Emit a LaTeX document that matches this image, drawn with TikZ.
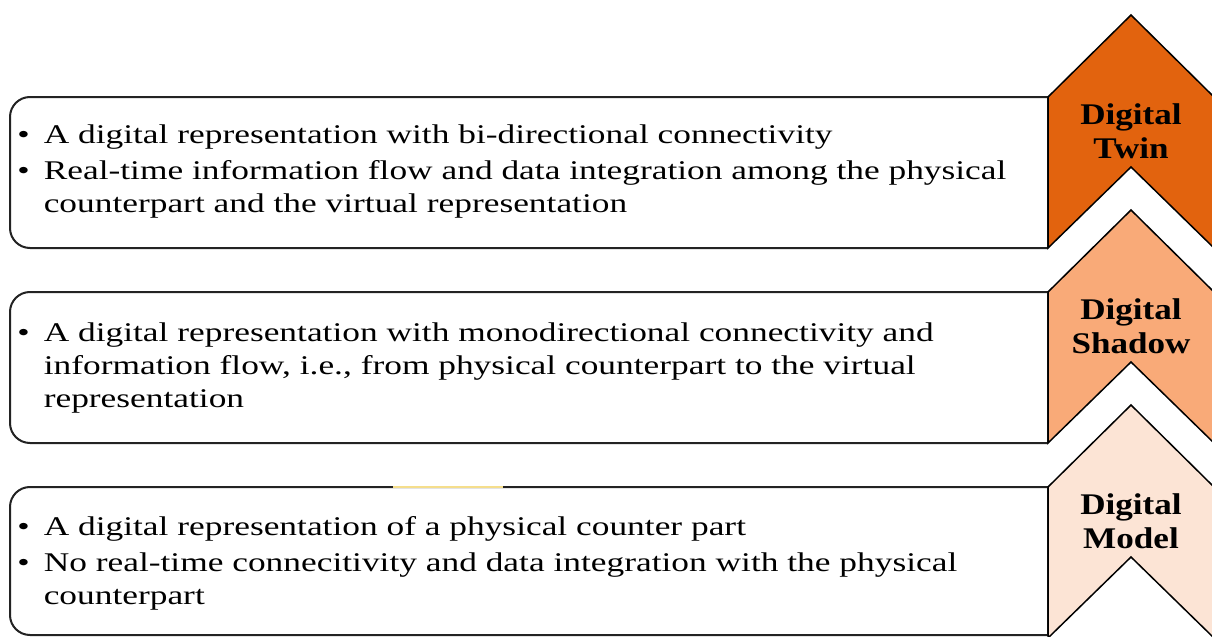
\documentclass[tikz,border=0pt]{standalone}
\usepackage{fontspec}
\setmainfont{Liberation Serif}[FakeStretch=1.31]
\newfontfamily\labelfont{Liberation Serif}[FakeStretch=1.17]
\usepackage{tikz}
\definecolor{twincol}{RGB}{226,99,14}
\definecolor{shadowcol}{RGB}{249,170,120}
\definecolor{modelcol}{RGB}{252,228,213}
\definecolor{boxgray}{RGB}{35,35,35}
\definecolor{smudge}{RGB}{245,222,140}
\tikzset{boxline/.style={draw=boxgray, line width=1pt},
chevron/.style={draw=black, line width=0.75pt, line join=miter},
%text rows start at the baseline of the first row
itemtext/.style={anchor=base west, inner sep=0pt, font=\fontsize{13.5}{16.5}\selectfont},
levellabel/.style={inner sep=0pt, align=center, font=\labelfont\bfseries\fontsize{15}{17}\selectfont}}
\newcommand{\bul}{\textbullet &}

\begin{document}
\begin{tikzpicture}[x=0.5pt,y=-0.5pt]
  \useasboundingbox (0,0) rectangle (1212,637);

  % boxes, round on the left only
  \draw[boxline,rounded corners=10pt] (1048,97) -- (10,97) -- (10,248) -- (1048,248);
  \draw[boxline] (1048,97) -- (1048,248);
  	
  \draw[boxline,rounded corners=10pt] (1048,292) -- (10,292) -- (10,443) -- (1048,443);
  \draw[boxline] (1048,292) -- (1048,443);
  	
  \draw[boxline,rounded corners=10pt] (1048,487) -- (10,487) -- (10,635) -- (1048,635);
  \draw[boxline] (1048,487) -- (1048,635);
  \draw[smudge,line width=1.3pt] (393,487) -- (503,487);

  % chevrons
  \filldraw[chevron,fill=twincol] (1048,97) -- (1131,15) -- (1214,97) -- (1214,248) -- (1131,167) -- (1048,248) -- cycle;
  \filldraw[chevron,fill=shadowcol] (1048,292) -- (1131,210) -- (1214,292) -- (1214,443) -- (1131,362) -- (1048,443) -- cycle;
  \filldraw[chevron,fill=modelcol] (1048,487) -- (1131,405) -- (1214,487) -- (1214,638) -- (1131,557) -- (1048,638) -- cycle;

  \node[levellabel] at (1131,131) (twin) {Digital\\Twin};
  \node[levellabel] at (1131,326) (shadow) {Digital\\Shadow};
  \node[levellabel] at (1131,521) (model) {Digital\\Model};

  \node[itemtext] at (17,143) (twintext) {\begin{tabular}[t]{@{}l@{\hspace{7pt}}l@{}}
    \bul A digital representation with bi-directional connectivity\\[1.5pt]
    \bul Real-time information flow and data integration among the physical\\
    & counterpart and the virtual representation
  \end{tabular}};

  \node[itemtext] at (17,341) (shadowtext) {\begin{tabular}[t]{@{}l@{\hspace{7pt}}l@{}}
    \bul A digital representation with monodirectional connectivity and\\
    & information flow, i.e., from physical counterpart to the virtual\\
    & representation
  \end{tabular}};

  \node[itemtext] at (17,535) (modeltext) {\begin{tabular}[t]{@{}l@{\hspace{7pt}}l@{}}
    \bul A digital representation of a physical counter part\\[1.5pt]
    \bul No real-time connecitivity and data integration with the physical\\
    & counterpart
  \end{tabular}};

\end{tikzpicture}
\end{document}
